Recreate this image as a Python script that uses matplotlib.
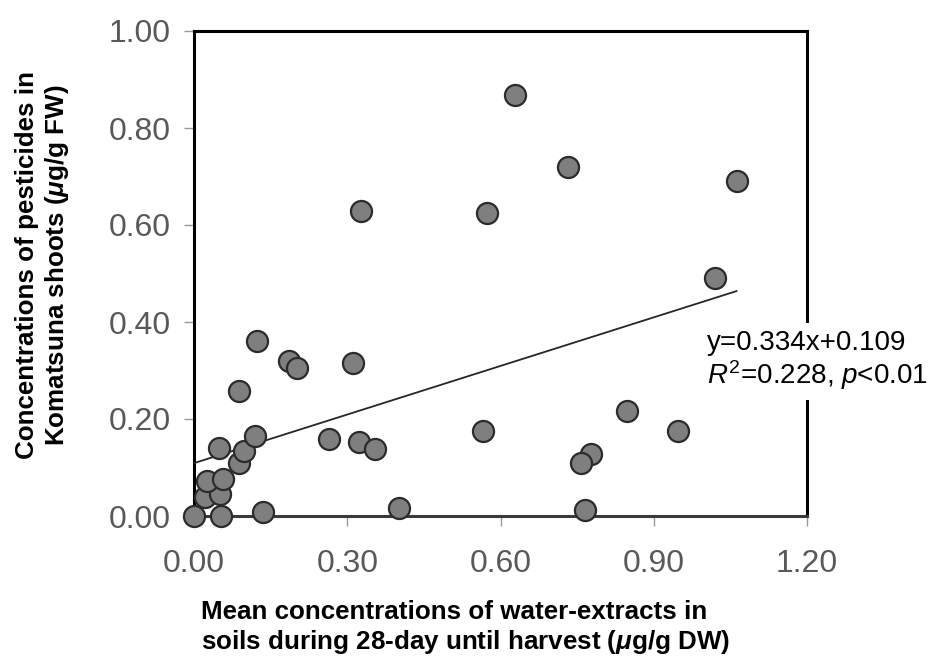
import matplotlib
matplotlib.use('Agg')
import matplotlib.pyplot as plt
import numpy as np

plt.rcParams['font.family'] = ['Liberation Sans', 'DejaVu Sans']
plt.rcParams['mathtext.fontset'] = 'custom'
plt.rcParams['mathtext.rm'] = 'Liberation Sans'
plt.rcParams['mathtext.it'] = 'Liberation Sans:italic'
plt.rcParams['mathtext.bf'] = 'Liberation Sans:italic:bold'

# soil water-extract concentration (ug/g DW) vs shoot concentration (ug/g FW)
soil_conc = [0.000, 0.053, 0.135, 0.401, 0.022, 0.050, 0.025, 0.057,
             0.088, 0.097, 0.049, 0.119, 0.088, 0.123, 0.186, 0.202,
             0.311, 0.264, 0.323, 0.355, 0.327, 0.573, 0.565, 0.628,
             0.733, 1.062, 1.020, 0.847, 0.948, 0.777, 0.757, 0.766]
shoot_conc = [0.000, 0.000, 0.008, 0.016, 0.040, 0.045, 0.072, 0.076,
              0.110, 0.135, 0.140, 0.164, 0.258, 0.361, 0.320, 0.306,
              0.316, 0.159, 0.152, 0.138, 0.629, 0.625, 0.175, 0.869,
              0.720, 0.691, 0.490, 0.216, 0.175, 0.128, 0.110, 0.012]

SLOPE = 0.334
INTERCEPT = 0.109
x_ticks = [0.0, 0.3, 0.6, 0.9, 1.2]
y_ticks = [0.0, 0.2, 0.4, 0.6, 0.8, 1.0]

fig = plt.figure(figsize=(9.36, 6.6), dpi=100)
ax = fig.add_axes([194/936, 1-516/660, 613/936, 485/660])

ax.scatter(soil_conc, shoot_conc, s=230, color='#7f7f7f',
           edgecolor='#2b2b2b', linewidth=1.6, zorder=4, clip_on=False)

#fitted regression line over the range of the data
fitX = np.array([0.0, max(soil_conc)])
ax.plot(fitX, SLOPE*fitX + INTERCEPT, color='#262626', linewidth=1.3, zorder=3)

ax.set_xlim(0, 1.2)
ax.set_ylim(0, 1.0)
ax.set_xticks(x_ticks)
ax.set_yticks(y_ticks)
ax.set_xticklabels([f'{v:.2f}' for v in x_ticks])
ax.set_yticklabels([f'{v:.2f}' for v in y_ticks])

for side in ['left', 'top', 'right', 'bottom']:
    ax.spines[side].set_linewidth(2.2)
    ax.spines[side].set_color('black')
ax.spines['bottom'].set_color('#3a3a3a')

ax.tick_params(axis='both', direction='out', length=7, width=1,
               color='#999999', labelsize=23, labelcolor='#595959')
ax.tick_params(axis='x', pad=17)
ax.tick_params(axis='y', pad=10)

labelFont = dict(fontsize=18.7, fontweight='bold', color='black')
fig.text(43/936, 1-265/660,
         'Concentrations of pesticides in\n'
         r'Komatsuna shoots ($\mathbf{\mu}$g/g FW)',
         rotation=90, ha='center', va='center', multialignment='center',
         linespacing=1.2, **labelFont)
fig.text(466/936, 1-600/660,
         'Mean concentrations of water-extracts in\n'
         r'soils during 28-day until harvest ($\mathbf{\mu}$g/g DW)',
         ha='center', va='top', multialignment='left',
         linespacing=1.2, **labelFont)

#equation box sits over the right spine
ax.text(1.005, 0.32, 'y=0.334x+0.109\n' + r'$R^{2}$=0.228, $p$<0.01',
        fontsize=20, color='black', ha='left', va='center',
        linespacing=1.1, zorder=6, clip_on=False,
        bbox=dict(facecolor='white', edgecolor='none', pad=6))

fig.savefig('out.png', dpi=100)
